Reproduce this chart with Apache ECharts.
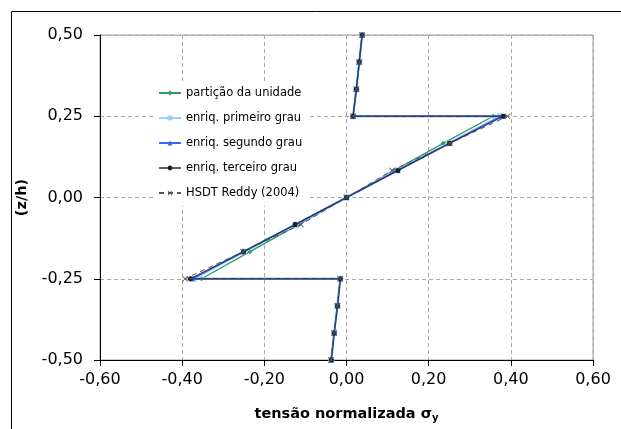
<!DOCTYPE html>
<html><head><meta charset="utf-8">
<script src="https://cdn.jsdelivr.net/npm/echarts@6/dist/echarts.min.js"></script>
<style>html,body{margin:0;padding:0;background:#fff}#c{width:621px;height:429px}</style>
</head><body><div id="c"></div><script>
// Normalised thickness coordinate z/h for each sampled point through the laminate
const zLevels = [0.5, 0.4167, 0.3333, 0.25, 0.25, 0.1667, 0.0833, 0, -0.0833, -0.1667, -0.25, -0.25, -0.3333, -0.4167, -0.5];

// Normalised stress sigma_y for each formulation
const particao = [0.038, 0.031, 0.024, 0.016, 0.357, 0.235, 0.117, 0, -0.117, -0.235, -0.353, -0.015, -0.022, -0.030, -0.037];
const primeiro = [0.038, 0.031, 0.024, 0.016, 0.374, 0.249, 0.124, 0, -0.124, -0.249, -0.372, -0.015, -0.022, -0.030, -0.037];
const segundo  = [0.038, 0.031, 0.024, 0.016, 0.377, 0.250, 0.125, 0, -0.125, -0.250, -0.376, -0.015, -0.022, -0.030, -0.037];
const terceiro = [0.038, 0.031, 0.024, 0.016, 0.382, 0.251, 0.125, 0, -0.125, -0.251, -0.380, -0.015, -0.022, -0.030, -0.037];
const reddy    = [0.038, 0.031, 0.024, 0.016, 0.392, 0.252, 0.111, 0, -0.111, -0.252, -0.393, -0.016, -0.022, -0.030, -0.038];

const seriesNames = ['partição da unidade', 'enriq. primeiro grau', 'enriq. segundo grau', 'enriq. terceiro grau', 'HSDT Reddy (2004)'];

const xTicks = { min: -0.6, max: 0.6, step: 0.2 };
const yTicks = { min: -0.5, max: 0.5, step: 0.25 };

const fmt = v => v.toFixed(2).replace('.', ',').replace('-0,00', '0,00');
const pairs = xs => xs.map((x, i) => [x, zLevels[i]]);

const crossPath = 'path://M0,1L1,0L5,4L9,0L10,1L6,5L10,9L9,10L5,6L1,10L0,9L4,5Z';
const font = 'DejaVu Sans';

// drawing order (z): green and light blue underneath, blue, then a translucent black, dashed reference on top
const styles = [
  { color: '#2e9e5b', symbol: 'diamond', size: 5, width: 1.3, type: 'solid', z: 1, opacity: 1 },
  { color: '#99ccff', symbol: 'rect', size: 6, width: 2.4, type: 'solid', z: 2, opacity: 1 },
  { color: '#3366ff', symbol: 'triangle', size: 5, width: 1.5, type: 'solid', z: 3, opacity: 1 },
  { color: '#1c1c2c', symbol: 'circle', size: 5, width: 1.3, type: 'solid', z: 4, opacity: 0.7 },
  { color: '#555555', symbol: crossPath, size: 6, width: 1, type: [5, 4], z: 6, opacity: 1 }
];
const values = [particao, primeiro, segundo, terceiro, reddy];

const chart = echarts.init(document.getElementById('c'), null, { renderer: 'canvas' });
chart.setOption({
  animation: false,
  backgroundColor: '#fff',
  graphic: [{
    type: 'rect', shape: { x: 11.5, y: 11.5, width: 700, height: 600 },
    style: { fill: 'none', stroke: '#000', lineWidth: 1 }, silent: true, z: -10
  }],
  grid: { left: 100, right: 28, top: 35, bottom: 69, show: true, borderColor: '#9a9a9a', borderWidth: 1, backgroundColor: 'transparent' },
  legend: {
    orient: 'vertical', left: 155, top: 81, itemGap: 11, itemWidth: 22, itemHeight: 6,
    backgroundColor: '#fff', padding: [5, 6, 6, 3],
    textStyle: { fontFamily: font, fontSize: 11.5, color: '#000', lineHeight: 14 },
    data: seriesNames
  },
  xAxis: {
    type: 'value', min: xTicks.min, max: xTicks.max, interval: xTicks.step,
    name: 'tensão normalizada σ{s|y}', nameLocation: 'middle', nameGap: 46,
    nameTextStyle: { fontFamily: font, fontSize: 14.5, fontWeight: 'bold', color: '#000',
      rich: { s: { fontFamily: font, fontSize: 10, fontWeight: 'bold', color: '#000', verticalAlign: 'bottom', padding: [7, 0, 0, 0] } } },
    axisLine: { show: true, onZero: false, lineStyle: { color: '#000', width: 1 } },
    axisTick: { show: true, inside: false, length: 6, lineStyle: { color: '#000' } },
    axisLabel: { margin: 12, fontFamily: font, fontSize: 16, color: '#000', formatter: fmt },
    splitLine: { show: true, lineStyle: { color: '#a8a8a8', type: [4, 3], width: 1 } }
  },
  yAxis: {
    type: 'value', min: yTicks.min, max: yTicks.max, interval: yTicks.step,
    name: '(z/h)', nameLocation: 'middle', nameGap: 70, nameRotate: 90,
    nameTextStyle: { fontFamily: font, fontSize: 14.5, fontWeight: 'bold', color: '#000' },
    axisLine: { show: true, onZero: false, lineStyle: { color: '#000', width: 1 } },
    axisTick: { show: true, inside: false, length: 6, lineStyle: { color: '#000' } },
    axisLabel: { margin: 17, fontFamily: font, fontSize: 16, color: '#000', formatter: fmt },
    splitLine: { show: true, lineStyle: { color: '#a8a8a8', type: [4, 3], width: 1 } }
  },
  series: values.map((v, i) => ({
    name: seriesNames[i], type: 'line', data: pairs(v),
    symbol: styles[i].symbol, symbolSize: styles[i].size, showSymbol: true,
    lineStyle: { color: styles[i].color, width: styles[i].width, type: styles[i].type, opacity: styles[i].opacity },
    itemStyle: { color: styles[i].color, borderWidth: 0 },
    z: styles[i].z
  }))
});
</script></body></html>
